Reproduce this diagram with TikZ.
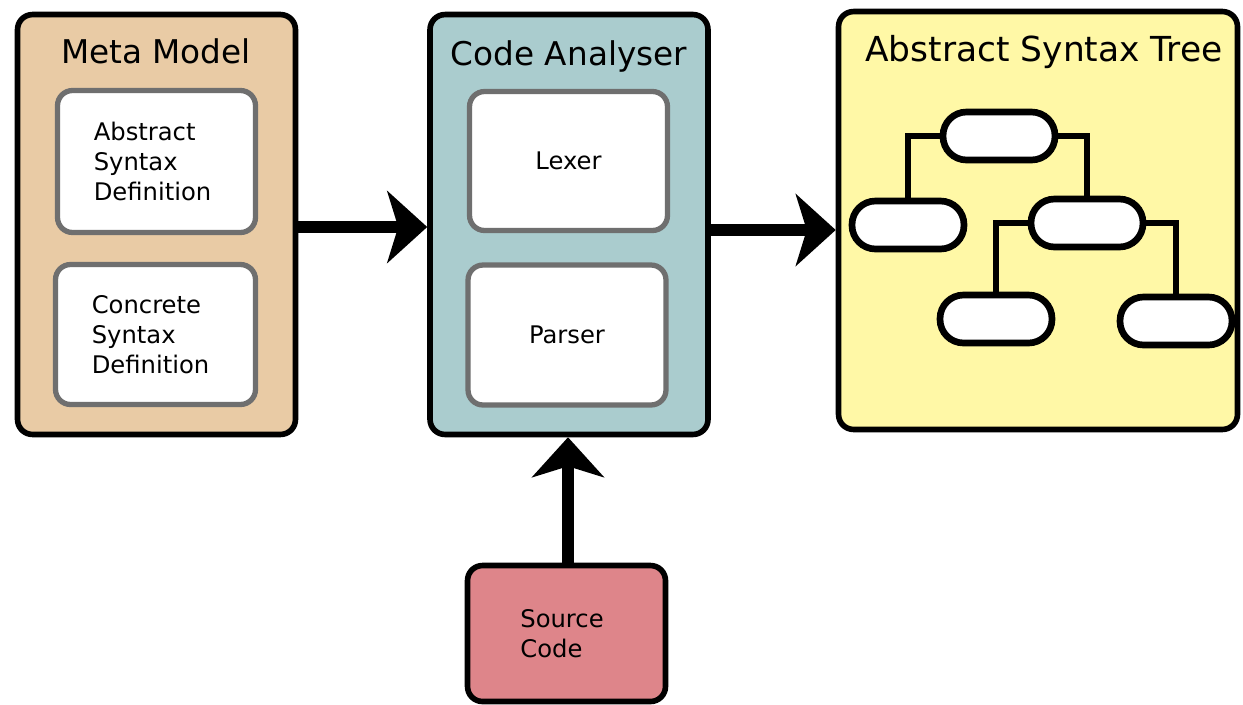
\documentclass[tikz,border=0pt]{standalone}
\usepackage{fontspec}
\setmainfont{DejaVu Sans}
\usetikzlibrary{arrows.meta, positioning}

\definecolor{metatan}{HTML}{E9CBA5}
\definecolor{analyserteal}{HTML}{AACCCE}
\definecolor{treeyellow}{HTML}{FFF8A6}
\definecolor{sourcepink}{HTML}{DE858A}
\definecolor{partgray}{HTML}{6F6F6F}

\begin{document}
\begin{tikzpicture}[x=0.02cm, y=-0.02cm,
    panel/.style={draw, line width=3.2pt, rounded corners=0.3cm, minimum width=5.56cm, minimum height=8.4cm},
    part/.style={draw=partgray, fill=white, line width=3pt, rounded corners=0.3cm, minimum width=3.96cm, minimum height=2.8cm, align=left, font=\fontsize{13.8}{17}\selectfont},
    title/.style={anchor=base, font=\fontsize{18.6}{22}\selectfont},
    leaf/.style={draw, fill=white, line width=3.8pt, rounded corners=0.47cm, minimum width=2.24cm, minimum height=0.96cm, inner sep=0pt},
    branch/.style={line width=3.8pt},
    flow/.style={line width=0.24cm, -{Stealth[length=0.8cm, width=1.44cm, inset=0.22cm]}}
]
    \useasboundingbox (0,0) rectangle (1243,704);

    % Draw the three panels
    \node[panel, fill=metatan] (meta) at (156.5, 224.5) {};
    \node[panel, fill=analyserteal] (code) at (569, 224.5) {};
    \node[panel, fill=treeyellow, minimum width=7.98cm, minimum height=8.36cm] (ast) at (1038, 220.5) {};

    \node[title] (metatitle) at (156, 63) {Meta Model};
    \node[title] (codetitle) at (569, 65) {Code Analyser};
    \node[title, font=\fontsize{19.6}{22}\selectfont] (asttitle) at (1044, 61) {Abstract Syntax Tree};

    % Draw the inner boxes
    \node[part, minimum height=2.84cm] (abstract) at (156.5, 161.5) {\hspace*{-0.16cm}Abstract\\\hspace*{-0.16cm}Syntax\\\hspace*{-0.16cm}Definition};
    \node[part, minimum width=4cm] (concrete) at (155.5, 334.5) {\hspace*{-0.2cm}Concrete\\\hspace*{-0.2cm}Syntax\\\hspace*{-0.2cm}Definition};
    \node[part, minimum height=2.78cm] (lexer) at (568.5, 161) {Lexer};
    \node[part] (parser) at (567, 335) {Parser};

    % Draw the tree
    \node[leaf] (root) at (999, 136) {};
    \node[leaf] (lchild) at (908, 225) {};
    \node[leaf] (rchild) at (1087, 223) {};
    \node[leaf] (lgrand) at (996, 319) {};
    \node[leaf] (rgrand) at (1176, 321) {};

    \draw[branch] (root.west) -| (lchild.north);
    \draw[branch] (root.east) -| (rchild.north);
    \draw[branch] (rchild.west) -| (lgrand.north);
    \draw[branch] (rchild.east) -| (rgrand.north);

    % Draw the source box
    \node[draw, fill=sourcepink, line width=3.2pt, rounded corners=0.3cm, minimum width=3.96cm, minimum height=2.72cm, align=left, font=\fontsize{13.8}{17}\selectfont] (source) at (566.5, 633.5) {\hspace*{-0.18cm}Source\\\hspace*{-0.18cm}Code};

    % Draw the arrows
    \draw[flow] ([yshift=-0.05cm]meta.east) -- ([yshift=-0.05cm]meta.east -| code.west);
    \draw[flow] ([yshift=-0.11cm]code.east) -- ([yshift=-0.11cm]code.east -| ast.west);
    \draw[flow] ([xshift=0.03cm]source.north) -- ([xshift=0.03cm]source.north |- code.south);
\end{tikzpicture}
\end{document}
